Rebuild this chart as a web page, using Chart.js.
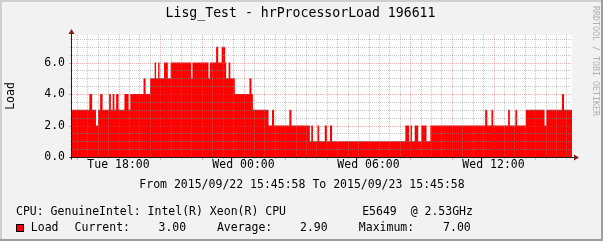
<!DOCTYPE html>
<html>
<head>
<meta charset="utf-8">
<script src="https://cdn.jsdelivr.net/npm/chart.js@4/dist/chart.umd.min.js"></script>
<style>
  html, body { margin: 0; padding: 0; background: #f2f2f2; }
  #wrap { width: 603px; height: 241px; }
</style>
</head>
<body>
<div id="wrap"><canvas id="rrd" width="603" height="241"></canvas></div>
<script>
// --- data (minutes since 2015/09/22 15:45:58) ---
const loadStartMinutes = [
  0, 50, 58, 69, 75, 81, 88, 107, 112, 117, 122, 127, 134, 151, 163, 168,
  206, 212, 225, 238, 242, 248, 252, 265, 276, 284, 343, 347, 393, 397,
  415, 421, 431, 441, 444, 451, 456, 469, 511, 517, 521, 566, 576, 582,
  626, 632, 685, 689, 694, 707, 712, 728, 734, 743, 749, 960, 971, 975,
  979, 987, 997, 1006, 1021, 1032, 1190, 1196, 1208, 1213, 1256, 1261,
  1277, 1282, 1307, 1361, 1366, 1411, 1417, 1440
];
const loadValues = [
  3, 4, 3, 2, 3, 4, 3, 4, 3, 4, 3, 4, 3, 4, 3, 4,
  5, 4, 5, 6, 5, 6, 5, 6, 5, 6, 5, 6, 5, 6,
  7, 6, 7, 6, 5, 6, 5, 4, 5, 4, 3, 2, 3, 2,
  3, 2, 1, 2, 1, 2, 1, 2, 1, 2, 1, 2, 1, 2,
  1, 2, 1, 2, 1, 2, 3, 2, 3, 2, 3, 2,
  3, 2, 3, 2, 3, 4, 3, 3
];

// --- axis labels ---
const xTickMinutes = [134, 494, 854, 1214];
const xTickLabels = ["Tue 18:00", "Wed 00:00", "Wed 06:00", "Wed 12:00"];
const yTickValues = [0, 2, 4, 6];
const yTickLabels = ["0.0", "2.0", "4.0", "6.0"];

const titleText = "Lisg_Test - hrProcessorLoad 196611";
const periodText = "From 2015/09/22 15:45:58 To 2015/09/23 15:45:58";
const cpuText = "CPU: GenuineIntel: Intel(R) Xeon(R) CPU           E5649  @ 2.53GHz";
const statLabels = ["Current:", "Average:", "Maximum:"];
const statValues = ["3.00", "2.90", "7.00"];

// --- rrdtool style colours ---
const MONO = '"DejaVu Sans Mono", "Liberation Mono", monospace';
const GRID = "rgba(143,143,143,0.5)";
const MGRID = "rgba(222,79,79,0.45)";
const AXIS = "rgb(31,31,31)";
const ARROW = "rgb(128,31,31)";

const rrdLook = {
  id: "rrdLook",
  beforeDraw(chart) {
    const { ctx, chartArea: a } = chart;
    ctx.save();
    ctx.fillStyle = "#f2f2f2";
    ctx.fillRect(0, 0, 603, 241);
    // shaded frame
    ctx.fillStyle = "#cfcfcf";
    ctx.fillRect(0, 0, 603, 2);
    ctx.fillRect(0, 0, 2, 241);
    ctx.fillStyle = "#9e9e9e";
    ctx.fillRect(0, 239, 603, 2);
    ctx.fillRect(601, 0, 2, 241);
    // canvas
    ctx.fillStyle = "#ffffff";
    ctx.fillRect(a.left, a.top, a.right - a.left, a.bottom - a.top);
    ctx.restore();
  },
  afterDatasetsDraw(chart) {
    const { ctx, chartArea: a } = chart;
    const xs = chart.scales.x, ys = chart.scales.y;
    ctx.save();

    // grid: minor first, then major
    ctx.lineWidth = 1;
    ctx.setLineDash([1, 1]);
    const vLines = [];
    for (let t = 14; t < 1440; t += 30) vLines.push(t);
    const hLines = [];
    for (let v = 0.5; v < 7.75; v += 0.5) hLines.push(v);

    [false, true].forEach((major) => {
      ctx.strokeStyle = major ? MGRID : GRID;
      ctx.beginPath();
      vLines.forEach((t) => {
        if (((t - 14) % 120 === 0) !== major) return;
        const x = Math.round(xs.getPixelForValue(t)) + 0.5;
        ctx.moveTo(x, a.top);
        ctx.lineTo(x, a.bottom);
      });
      hLines.forEach((v) => {
        if ((v % 2 === 0) !== major) return;
        const y = Math.round(ys.getPixelForValue(v)) + 0.5;
        ctx.moveTo(a.left, y);
        ctx.lineTo(a.right, y);
      });
      ctx.stroke();
    });
    ctx.setLineDash([]);

    // tick marks outside the axes
    [false, true].forEach((major) => {
      ctx.strokeStyle = major ? MGRID : GRID;
      ctx.beginPath();
      vLines.forEach((t) => {
        if (((t - 14) % 120 === 0) !== major) return;
        const x = Math.round(xs.getPixelForValue(t)) + 0.5;
        ctx.moveTo(x, a.bottom);
        ctx.lineTo(x, a.bottom + (major ? 3 : 2));
      });
      hLines.forEach((v) => {
        if ((v % 2 === 0) !== major) return;
        const y = Math.round(ys.getPixelForValue(v)) + 0.5;
        ctx.moveTo(a.left - (major ? 3 : 2), y);
        ctx.lineTo(a.left, y);
      });
      ctx.stroke();
    });

    // axes
    const x0 = Math.round(a.left) - 0.5;
    const y0 = Math.round(a.bottom) + 0.5;
    ctx.strokeStyle = AXIS;
    ctx.beginPath();
    ctx.moveTo(x0, y0 + 2);
    ctx.lineTo(x0, a.top - 2);
    ctx.moveTo(x0 - 2, y0);
    ctx.lineTo(a.right + 4, y0);
    ctx.stroke();

    // arrows
    ctx.fillStyle = ARROW;
    ctx.beginPath();
    ctx.moveTo(x0 - 3, a.top - 1);
    ctx.lineTo(x0 + 3, a.top - 1);
    ctx.lineTo(x0, a.top - 6);
    ctx.closePath();
    ctx.fill();
    ctx.beginPath();
    ctx.moveTo(a.right + 2, y0 - 3);
    ctx.lineTo(a.right + 2, y0 + 3);
    ctx.lineTo(a.right + 7, y0);
    ctx.closePath();
    ctx.fill();

    // text
    ctx.fillStyle = "#000";
    ctx.textBaseline = "middle";
    ctx.font = "11.5px " + MONO;

    ctx.textAlign = "right";
    yTickValues.forEach((v, i) => {
      ctx.fillText(yTickLabels[i], a.left - 7, ys.getPixelForValue(v));
    });
    ctx.textAlign = "center";
    xTickMinutes.forEach((t, i) => {
      ctx.fillText(xTickLabels[i], xs.getPixelForValue(t), 165);
    });

    ctx.fillText(periodText, 302, 185);

    ctx.save();
    ctx.translate(11, 96);
    ctx.rotate(-Math.PI / 2);
    ctx.fillText("Load", 0, 0);
    ctx.restore();

    ctx.font = "13.2px " + MONO;
    ctx.fillText(titleText, 300.5, 14);

    // legend
    ctx.font = "11.5px " + MONO;
    ctx.textAlign = "left";
    ctx.fillText(cpuText, 16, 212);
    ctx.fillStyle = "#ff0000";
    ctx.fillRect(16, 224, 8, 8);
    ctx.strokeStyle = "#000";
    ctx.strokeRect(16.5, 224.5, 7, 7);
    ctx.fillStyle = "#000";
    ctx.fillText("Load", 30.8, 228);
    const labelX = [74.6, 216.9, 358.8];
    const valueX = [158.5, 300, 443.1];
    statLabels.forEach((s, i) => {
      ctx.fillText(s, labelX[i], 228);
      ctx.fillText(statValues[i], valueX[i], 228);
    });

    // watermark
    ctx.save();
    ctx.fillStyle = "#b0b0b0";
    ctx.font = "8.3px " + MONO;
    ctx.translate(595, 6);
    ctx.rotate(Math.PI / 2);
    ctx.textAlign = "left";
    ctx.fillText("RRDTOOL / TOBI OETIKER", 0, 0);
    ctx.restore();

    ctx.restore();
  }
};

new Chart(document.getElementById("rrd"), {
  type: "line",
  data: {
    datasets: [{
      label: "Load",
      data: loadStartMinutes.map((t, i) => ({ x: t, y: loadValues[i] })),
      stepped: true,
      fill: "origin",
      backgroundColor: "#ff0000",
      borderWidth: 0,
      pointRadius: 0,
    }],
  },
  options: {
    responsive: false,
    devicePixelRatio: 1,
    animation: false,
    layout: { padding: { left: 72, top: 35, right: 31, bottom: 84 } },
    plugins: { legend: { display: false }, tooltip: { enabled: false } },
    scales: {
      x: { type: "linear", min: 0, max: 1440, display: false },
      y: { min: 0, max: 7.75, display: false },
    },
  },
  plugins: [rrdLook],
});
</script>
</body>
</html>
